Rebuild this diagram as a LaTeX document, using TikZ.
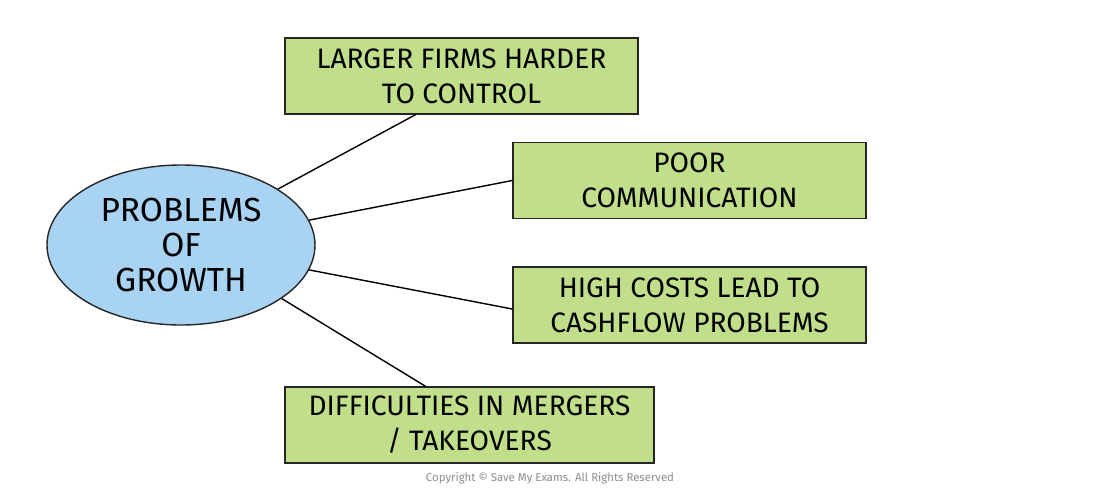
\documentclass[tikz,border=0pt]{standalone}
\usepackage{fontspec}
\setmainfont{Fira Sans}
\usetikzlibrary{shapes.geometric,calc}
\definecolor{bl}{HTML}{A9D3F3}
\definecolor{gr}{HTML}{C1DE8B}
\begin{document}
\begin{tikzpicture}[x=0.02cm,y=-0.02cm,
  box/.style={draw=black!85,fill=gr,line width=0.8pt,minimum height=76*0.02cm,align=center,font=\fontsize{16}{20}\selectfont,inner sep=0pt},
  ln/.style={draw=black,line width=0.8pt}]
\useasboundingbox (0,0) rectangle (1100,491);
\node[ellipse,draw=black!85,fill=bl,line width=0.8pt,minimum width=268*0.02cm,minimum height=160*0.02cm,inner sep=0pt,align=center,font=\fontsize{19}{20}\selectfont] (e) at (181,245) {PROBLEMS\\OF\\GROWTH};
\node[box,minimum width=353*0.02cm] (b1) at (461.5,76) {LARGER FIRMS HARDER\\TO CONTROL};
\node[box,minimum width=353*0.02cm] (b2) at (689.5,180.5) {POOR\\COMMUNICATION};
\node[box,minimum width=353*0.02cm] (b3) at (689.5,305) {HIGH COSTS LEAD TO\\CASHFLOW PROBLEMS};
\node[box,minimum width=369*0.02cm] (b4) at (469.5,425) {DIFFICULTIES IN MERGERS\\/ TAKEOVERS};
\draw[ln] (e.30) -- ($(b1.south)+(-46,0)$);
\draw[ln] (e.11) -- (b2.west);
\draw[ln] (e.-11) -- ($(b3.west)+(0,4)$);
\draw[ln] (e.-28) -- ($(b4.north)+(-44,0)$);
\node[text=black!45,font=\fontsize{6.5}{8}\selectfont] (c) at (550,478) {Copyright © Save My Exams. All Rights Reserved};
\end{tikzpicture}
\end{document}
